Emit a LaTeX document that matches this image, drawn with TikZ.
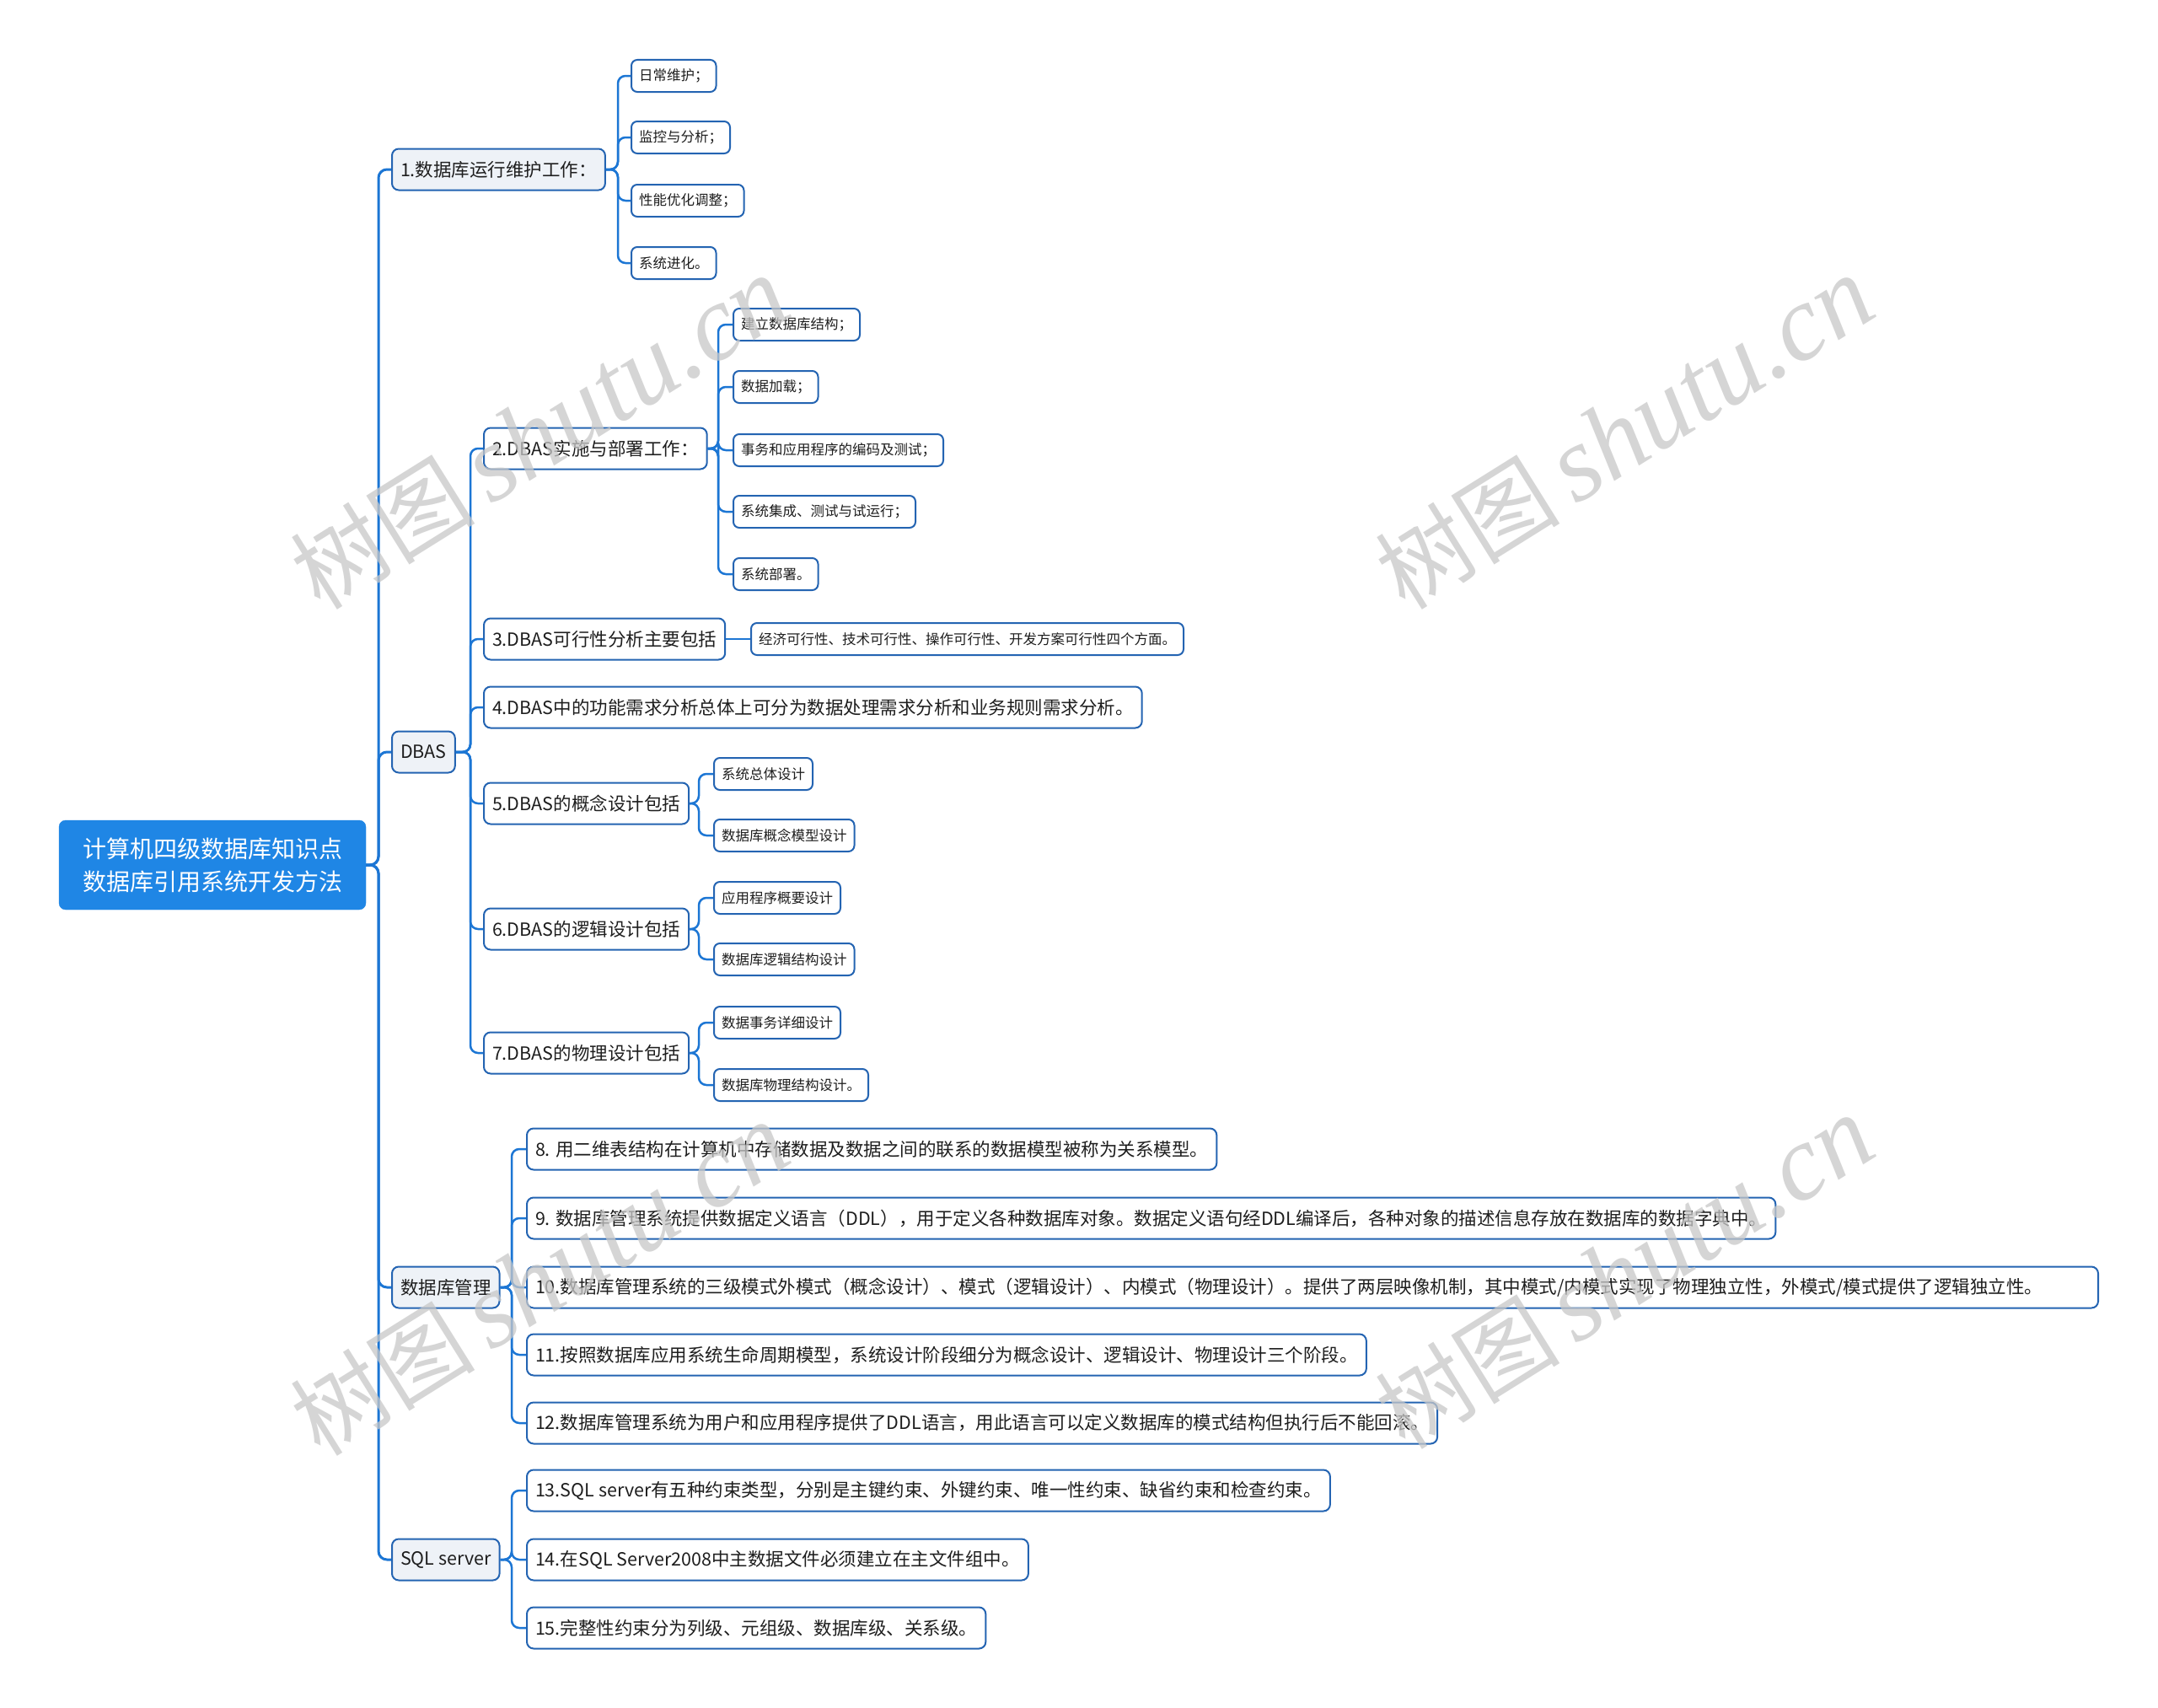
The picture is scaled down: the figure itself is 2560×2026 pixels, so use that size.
\documentclass[tikz,border=0pt]{standalone}
\usepackage{fontspec}
\setmainfont{Noto Sans CJK SC}
\newfontfamily\wmlatin{Liberation Serif}
\newfontfamily\wmcjk{Noto Sans CJK SC}
\usetikzlibrary{calc}
\definecolor{rootblue}{RGB}{31,134,229}
\definecolor{linec}{RGB}{28,118,212}
\definecolor{borderc}{RGB}{36,100,178}
\definecolor{lonefill}{RGB}{238,242,247}
\definecolor{txtc}{RGB}{30,30,30}
\definecolor{wmc}{RGB}{200,200,200}
\begin{document}
\begin{tikzpicture}[x=1pt,y=-1pt,
  rootbox/.style={draw=rootblue, fill=rootblue, rounded corners=8pt, text=white, align=center,
    minimum width=364pt, minimum height=106pt, inner sep=0pt, font=\fontsize{28}{39}\selectfont},
  topicbox/.style={draw=borderc, fill=lonefill, rounded corners=8pt, line width=2pt, minimum height=49pt,
    inner xsep=10pt, inner ysep=0pt, anchor=west, text=txtc, font=\fontsize{21.5}{26}\selectfont},
  subbox/.style={topicbox, fill=white},
  leafbox/.style={draw=borderc, fill=white, rounded corners=7pt, line width=2pt, minimum height=38pt,
    inner xsep=9pt, inner ysep=0pt, anchor=west, text=txtc, font=\fontsize{16.5}{20}\selectfont},
  conn/.style={draw=linec, line width=2.5pt, rounded corners=9pt},
  mainconn/.style={draw=linec, line width=3pt, rounded corners=10pt},
  wmark/.style={text=wmc, opacity=0.75, rotate=32, inner sep=0pt}
]
\useasboundingbox (0,0) rectangle (2560,2026);
\fill[white] (0,0) rectangle (2560,2026);

% trunk coordinates
\coordinate (t0) at (449,0);
\coordinate (t1) at (733,0);
\coordinate (tb) at (558,0);
\coordinate (t2) at (852,0);
\coordinate (t5) at (829,0);
\coordinate (tc) at (607,0);
\coordinate (td) at (607,0);

% root
\node[rootbox] (root) at (252,1026) {计算机四级数据库知识点\\数据库引用系统开发方法};

% level 1
\node[topicbox] (a) at (464,201) {1.数据库运行维护工作：};
\node[topicbox] (b) at (464,892) {DBAS};
\node[topicbox] (c) at (464,1527) {数据库管理};
\node[topicbox] (d) at (464,1850) {SQL server};

% group a leaves
\node[leafbox] (a1) at (748,90) {日常维护；};
\node[leafbox] (a2) at (748,163) {监控与分析；};
\node[leafbox] (a3) at (748,238) {性能优化调整；};
\node[leafbox] (a4) at (748,312) {系统进化。};

% DBAS children
\node[subbox] (b2) at (573,532) {2.DBAS实施与部署工作：};
\node[subbox] (b3) at (573,758) {3.DBAS可行性分析主要包括};
\node[subbox] (b4) at (573,839) {4.DBAS中的功能需求分析总体上可分为数据处理需求分析和业务规则需求分析。};
\node[subbox] (b5) at (573,953) {5.DBAS的概念设计包括};
\node[subbox] (b6) at (573,1102) {6.DBAS的逻辑设计包括};
\node[subbox] (b7) at (573,1249) {7.DBAS的物理设计包括};

\node[leafbox] (b2a) at (869,385) {建立数据库结构；};
\node[leafbox] (b2b) at (869,459) {数据加载；};
\node[leafbox] (b2c) at (869,534) {事务和应用程序的编码及测试；};
\node[leafbox] (b2d) at (869,607) {系统集成、测试与试运行；};
\node[leafbox] (b2e) at (869,681) {系统部署。};

\node[leafbox] (b3a) at (890,758) {经济可行性、技术可行性、操作可行性、开发方案可行性四个方面。};

\node[leafbox] (b5a) at (846,918) {系统总体设计};
\node[leafbox] (b5b) at (846,991) {数据库概念模型设计};
\node[leafbox] (b6a) at (846,1065) {应用程序概要设计};
\node[leafbox] (b6b) at (846,1138) {数据库逻辑结构设计};
\node[leafbox] (b7a) at (846,1213) {数据事务详细设计};
\node[leafbox] (b7b) at (846,1287) {数据库物理结构设计。};

% 数据库管理 children
\node[subbox] (c8) at (624,1363) {8. 用二维表结构在计算机中存储数据及数据之间的联系的数据模型被称为关系模型。};
\node[subbox] (c9) at (624,1445) {9. 数据库管理系统提供数据定义语言（DDL），用于定义各种数据库对象。数据定义语句经DDL编译后，各种对象的描述信息存放在数据库的数据字典中。};
\node[subbox, text width=1844pt, align=left] (c10) at (624,1527) {10.数据库管理系统的三级模式外模式（概念设计）、模式（逻辑设计）、内模式（物理设计）。提供了两层映像机制，其中模式/内模式实现了物理独立性，外模式/模式提供了逻辑独立性。};
\node[subbox] (c11) at (624,1607) {11.按照数据库应用系统生命周期模型，系统设计阶段细分为概念设计、逻辑设计、物理设计三个阶段。};
\node[subbox] (c12) at (624,1688) {12.数据库管理系统为用户和应用程序提供了DDL语言，用此语言可以定义数据库的模式结构但执行后不能回滚。};

% SQL server children
\node[subbox] (d13) at (624,1768) {13.SQL server有五种约束类型，分别是主键约束、外键约束、唯一性约束、缺省约束和检查约束。};
\node[subbox] (d14) at (624,1850) {14.在SQL Server2008中主数据文件必须建立在主文件组中。};
\node[subbox] (d15) at (624,1931) {15.完整性约束分为列级、元组级、数据库级、关系级。};

% connectors
\foreach \n in {a,b,c,d}
  \draw[mainconn] (root.east) -- (root.east -| t0) |- (\n.west);
\foreach \n in {a1,a2,a3,a4}
  \draw[conn] (a.east) -- (a.east -| t1) |- (\n.west);
\foreach \n in {b2,b3,b4,b5,b6,b7}
  \draw[conn] (b.east) -- (b.east -| tb) |- (\n.west);
\foreach \n in {b2a,b2b,b2c,b2d,b2e}
  \draw[conn] (b2.east) -- (b2.east -| t2) |- (\n.west);
\draw[conn] (b3.east) -- (b3a.west);
\foreach \n in {b5a,b5b}
  \draw[conn] (b5.east) -- (b5.east -| t5) |- (\n.west);
\foreach \n in {b6a,b6b}
  \draw[conn] (b6.east) -- (b6.east -| t5) |- (\n.west);
\foreach \n in {b7a,b7b}
  \draw[conn] (b7.east) -- (b7.east -| t5) |- (\n.west);
\foreach \n in {c8,c9,c10,c11,c12}
  \draw[conn] (c.east) -- (c.east -| tc) |- (\n.west);
\foreach \n in {d13,d14,d15}
  \draw[conn] (d.east) -- (d.east -| td) |- (\n.west);

% watermarks
\node[wmark] (w1) at (640,514) {\wmcjk\fontsize{110}{110}\selectfont 树图\,\wmlatin\itshape\fontsize{127}{127}\selectfont shutu.cn};
\node[wmark] (w2) at (1927,514) {\wmcjk\fontsize{110}{110}\selectfont 树图\,\wmlatin\itshape\fontsize{127}{127}\selectfont shutu.cn};
\node[wmark] (w3) at (640,1518) {\wmcjk\fontsize{110}{110}\selectfont 树图\,\wmlatin\itshape\fontsize{127}{127}\selectfont shutu.cn};
\node[wmark] (w4) at (1927,1510) {\wmcjk\fontsize{110}{110}\selectfont 树图\,\wmlatin\itshape\fontsize{127}{127}\selectfont shutu.cn};
\end{tikzpicture}
\end{document}
